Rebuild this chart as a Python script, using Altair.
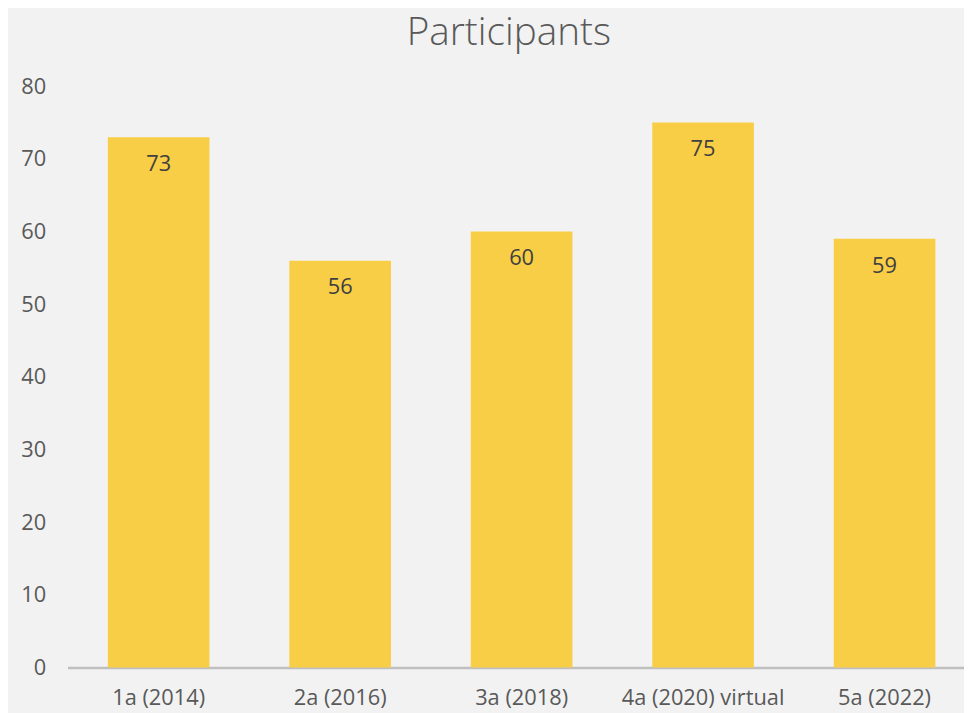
import altair as alt
import pandas as pd

categories = ["1a (2014)", "2a (2016)", "3a (2018)", "4a (2020) virtual", "5a (2022)"]
participants = [73, 56, 60, 75, 59]

df = pd.DataFrame({"edition": categories, "participants": participants})

FONT = "Open Sans"

base = alt.Chart(df).encode(
    x=alt.X(
        "edition:N",
        sort=categories,
        scale=alt.Scale(paddingInner=0.44, paddingOuter=0.19, align=0.585),
        axis=alt.Axis(
            title=None, labelAngle=0, ticks=False, domainColor="#bfbfbf",
            domainWidth=2.5, labelColor="#595959", labelFontSize=22,
            labelFont=FONT, labelPadding=20, labelBaseline="top",
        ),
    ),
    y=alt.Y(
        "participants:Q",
        scale=alt.Scale(domain=[0, 80], nice=False),
        axis=alt.Axis(
            title=None, values=[0, 10, 20, 30, 40, 50, 60, 70, 80], grid=False,
            domain=False, ticks=False, labelColor="#595959", labelFontSize=22,
            labelFont=FONT, labelPadding=22,
        ),
    ),
)

bars = base.mark_bar(color="#f9ce47")
labels = base.mark_text(
    baseline="middle", dy=27, fontSize=22, font=FONT, color="#404040"
).encode(text="participants:Q")

chart = (
    (bars + labels)
    .properties(
        width=904,
        height=586,
        autosize=alt.AutoSizeParams(type="none"),
        padding={"left": 60, "top": 76, "right": 0, "bottom": 43},
        background="#f2f2f2",
        title=alt.TitleParams(
            "Participants", font=FONT, fontSize=39, fontWeight=300,
            color="#595959", dx=-7, offset=23, anchor="middle",
        ),
    )
    .configure_view(stroke=None)
)

chart.save("out.html", embed_options={"renderer": "svg", "actions": False})
